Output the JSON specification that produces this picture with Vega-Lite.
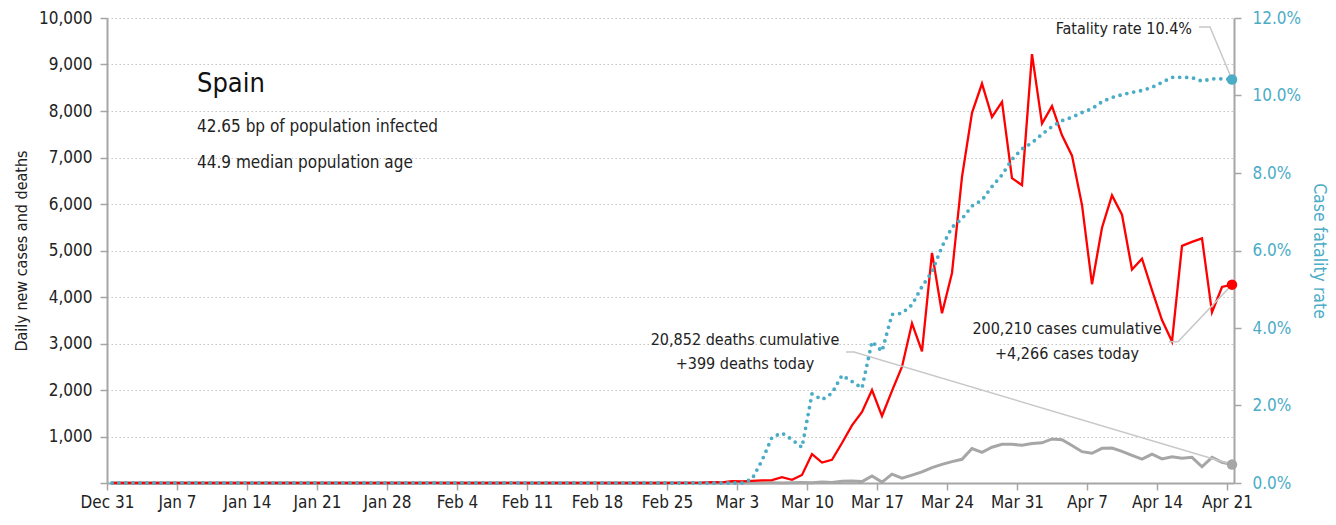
{
  "$schema": "https://vega.github.io/schema/vega-lite/v6.json",
  "width": 1127,
  "height": 465,
  "autosize": {"type": "none"},
  "padding": {"left": 107, "top": 18, "right": 102, "bottom": 42},
  "background": "white",
  "config": {
    "view": {"stroke": null},
    "font": "DejaVu Sans Condensed, Liberation Sans, sans-serif",
    "text": {"font": "DejaVu Sans Condensed, Liberation Sans, sans-serif"},
    "axis": {
      "domainColor": "#a6a6a6", "domainWidth": 2,
      "tickColor": "#a6a6a6", "tickWidth": 1.5, "tickSize": 7,
      "labelFont": "DejaVu Sans Condensed, Liberation Sans, sans-serif", "labelFontSize": 17, "labelColor": "#222222",
      "titleFont": "DejaVu Sans Condensed, Liberation Sans, sans-serif", "titleFontSize": 16, "titleFontWeight": "normal", "titleColor": "#222222",
      "gridColor": "#c4c4c4", "gridDash": [1.5, 2.5], "gridWidth": 1
    }
  },
  "datasets": {
    "main": [
      {"date":"2019/12/31","cases":0,"deaths":0,"cfr":0},
      {"date":"2020/01/01","cases":0,"deaths":0,"cfr":0},
      {"date":"2020/01/02","cases":0,"deaths":0,"cfr":0},
      {"date":"2020/01/03","cases":0,"deaths":0,"cfr":0},
      {"date":"2020/01/04","cases":0,"deaths":0,"cfr":0},
      {"date":"2020/01/05","cases":0,"deaths":0,"cfr":0},
      {"date":"2020/01/06","cases":0,"deaths":0,"cfr":0},
      {"date":"2020/01/07","cases":0,"deaths":0,"cfr":0},
      {"date":"2020/01/08","cases":0,"deaths":0,"cfr":0},
      {"date":"2020/01/09","cases":0,"deaths":0,"cfr":0},
      {"date":"2020/01/10","cases":0,"deaths":0,"cfr":0},
      {"date":"2020/01/11","cases":0,"deaths":0,"cfr":0},
      {"date":"2020/01/12","cases":0,"deaths":0,"cfr":0},
      {"date":"2020/01/13","cases":0,"deaths":0,"cfr":0},
      {"date":"2020/01/14","cases":0,"deaths":0,"cfr":0},
      {"date":"2020/01/15","cases":0,"deaths":0,"cfr":0},
      {"date":"2020/01/16","cases":0,"deaths":0,"cfr":0},
      {"date":"2020/01/17","cases":0,"deaths":0,"cfr":0},
      {"date":"2020/01/18","cases":0,"deaths":0,"cfr":0},
      {"date":"2020/01/19","cases":0,"deaths":0,"cfr":0},
      {"date":"2020/01/20","cases":0,"deaths":0,"cfr":0},
      {"date":"2020/01/21","cases":0,"deaths":0,"cfr":0},
      {"date":"2020/01/22","cases":0,"deaths":0,"cfr":0},
      {"date":"2020/01/23","cases":0,"deaths":0,"cfr":0},
      {"date":"2020/01/24","cases":0,"deaths":0,"cfr":0},
      {"date":"2020/01/25","cases":0,"deaths":0,"cfr":0},
      {"date":"2020/01/26","cases":0,"deaths":0,"cfr":0},
      {"date":"2020/01/27","cases":0,"deaths":0,"cfr":0},
      {"date":"2020/01/28","cases":0,"deaths":0,"cfr":0},
      {"date":"2020/01/29","cases":0,"deaths":0,"cfr":0},
      {"date":"2020/01/30","cases":0,"deaths":0,"cfr":0},
      {"date":"2020/01/31","cases":0,"deaths":0,"cfr":0},
      {"date":"2020/02/01","cases":1,"deaths":0,"cfr":0},
      {"date":"2020/02/02","cases":0,"deaths":0,"cfr":0},
      {"date":"2020/02/03","cases":0,"deaths":0,"cfr":0},
      {"date":"2020/02/04","cases":0,"deaths":0,"cfr":0},
      {"date":"2020/02/05","cases":0,"deaths":0,"cfr":0},
      {"date":"2020/02/06","cases":0,"deaths":0,"cfr":0},
      {"date":"2020/02/07","cases":0,"deaths":0,"cfr":0},
      {"date":"2020/02/08","cases":0,"deaths":0,"cfr":0},
      {"date":"2020/02/09","cases":1,"deaths":0,"cfr":0},
      {"date":"2020/02/10","cases":0,"deaths":0,"cfr":0},
      {"date":"2020/02/11","cases":0,"deaths":0,"cfr":0},
      {"date":"2020/02/12","cases":0,"deaths":0,"cfr":0},
      {"date":"2020/02/13","cases":0,"deaths":0,"cfr":0},
      {"date":"2020/02/14","cases":0,"deaths":0,"cfr":0},
      {"date":"2020/02/15","cases":0,"deaths":0,"cfr":0},
      {"date":"2020/02/16","cases":0,"deaths":0,"cfr":0},
      {"date":"2020/02/17","cases":0,"deaths":0,"cfr":0},
      {"date":"2020/02/18","cases":0,"deaths":0,"cfr":0},
      {"date":"2020/02/19","cases":0,"deaths":0,"cfr":0},
      {"date":"2020/02/20","cases":0,"deaths":0,"cfr":0},
      {"date":"2020/02/21","cases":0,"deaths":0,"cfr":0},
      {"date":"2020/02/22","cases":0,"deaths":0,"cfr":0},
      {"date":"2020/02/23","cases":0,"deaths":0,"cfr":0},
      {"date":"2020/02/24","cases":0,"deaths":0,"cfr":0},
      {"date":"2020/02/25","cases":1,"deaths":0,"cfr":0},
      {"date":"2020/02/26","cases":4,"deaths":0,"cfr":0},
      {"date":"2020/02/27","cases":3,"deaths":0,"cfr":0},
      {"date":"2020/02/28","cases":7,"deaths":0,"cfr":0},
      {"date":"2020/02/29","cases":17,"deaths":0,"cfr":0},
      {"date":"2020/03/01","cases":13,"deaths":0,"cfr":0},
      {"date":"2020/03/02","cases":39,"deaths":0,"cfr":0},
      {"date":"2020/03/03","cases":36,"deaths":0,"cfr":0},
      {"date":"2020/03/04","cases":45,"deaths":1,"cfr":0.001},
      {"date":"2020/03/05","cases":57,"deaths":1,"cfr":0.0058},
      {"date":"2020/03/06","cases":60,"deaths":3,"cfr":0.0118},
      {"date":"2020/03/07","cases":125,"deaths":2,"cfr":0.0129},
      {"date":"2020/03/08","cases":70,"deaths":7,"cfr":0.0112},
      {"date":"2020/03/09","cases":172,"deaths":11,"cfr":0.0092},
      {"date":"2020/03/10","cases":622,"deaths":7,"cfr":0.0230},
      {"date":"2020/03/11","cases":440,"deaths":19,"cfr":0.0215},
      {"date":"2020/03/12","cases":500,"deaths":11,"cfr":0.0232},
      {"date":"2020/03/13","cases":860,"deaths":37,"cfr":0.0278},
      {"date":"2020/03/14","cases":1240,"deaths":43,"cfr":0.0262},
      {"date":"2020/03/15","cases":1530,"deaths":30,"cfr":0.0245},
      {"date":"2020/03/16","cases":2000,"deaths":150,"cfr":0.0365},
      {"date":"2020/03/17","cases":1440,"deaths":20,"cfr":0.0340},
      {"date":"2020/03/18","cases":1980,"deaths":190,"cfr":0.0435},
      {"date":"2020/03/19","cases":2500,"deaths":105,"cfr":0.0438},
      {"date":"2020/03/20","cases":3435,"deaths":170,"cfr":0.0460},
      {"date":"2020/03/21","cases":2830,"deaths":240,"cfr":0.0507},
      {"date":"2020/03/22","cases":4950,"deaths":330,"cfr":0.0545},
      {"date":"2020/03/23","cases":3650,"deaths":400,"cfr":0.0610},
      {"date":"2020/03/24","cases":4517,"deaths":460,"cfr":0.0660},
      {"date":"2020/03/25","cases":6585,"deaths":510,"cfr":0.0682},
      {"date":"2020/03/26","cases":7960,"deaths":740,"cfr":0.0715},
      {"date":"2020/03/27","cases":8590,"deaths":660,"cfr":0.0730},
      {"date":"2020/03/28","cases":7871,"deaths":770,"cfr":0.0765},
      {"date":"2020/03/29","cases":8195,"deaths":832,"cfr":0.0795},
      {"date":"2020/03/30","cases":6555,"deaths":835,"cfr":0.0835},
      {"date":"2020/03/31","cases":6405,"deaths":810,"cfr":0.0862},
      {"date":"2020/04/01","cases":9222,"deaths":850,"cfr":0.0878},
      {"date":"2020/04/02","cases":7730,"deaths":865,"cfr":0.0900},
      {"date":"2020/04/03","cases":8105,"deaths":948,"cfr":0.0920},
      {"date":"2020/04/04","cases":7478,"deaths":932,"cfr":0.0935},
      {"date":"2020/04/05","cases":7040,"deaths":805,"cfr":0.0944},
      {"date":"2020/04/06","cases":5980,"deaths":674,"cfr":0.0956},
      {"date":"2020/04/07","cases":4275,"deaths":640,"cfr":0.0966},
      {"date":"2020/04/08","cases":5490,"deaths":745,"cfr":0.0984},
      {"date":"2020/04/09","cases":6186,"deaths":752,"cfr":0.0995},
      {"date":"2020/04/10","cases":5770,"deaths":680,"cfr":0.1002},
      {"date":"2020/04/11","cases":4590,"deaths":595,"cfr":0.1008},
      {"date":"2020/04/12","cases":4823,"deaths":512,"cfr":0.1013},
      {"date":"2020/04/13","cases":4150,"deaths":622,"cfr":0.1021},
      {"date":"2020/04/14","cases":3505,"deaths":517,"cfr":0.1034},
      {"date":"2020/04/15","cases":3045,"deaths":565,"cfr":0.1047},
      {"date":"2020/04/16","cases":5100,"deaths":530,"cfr":0.1047},
      {"date":"2020/04/17","cases":5185,"deaths":552,"cfr":0.1046},
      {"date":"2020/04/18","cases":5260,"deaths":350,"cfr":0.1037},
      {"date":"2020/04/19","cases":3670,"deaths":552,"cfr":0.1043},
      {"date":"2020/04/20","cases":4216,"deaths":445,"cfr":0.1043},
      {"date":"2020/04/21","cases":4266,"deaths":399,"cfr":0.10415}
    ]
  },
  "encoding": {
    "x": {
      "field": "date", "type": "temporal",
      "scale": {"domain": [{"year": 2019, "month": 12, "date": 31}, {"year": 2020, "month": 4, "date": 21, "hours": 16, "minutes": 48}]},
      "axis": {
        "values": [
          {"year": 2019, "month": 12, "date": 31},
          {"year": 2020, "month": 1, "date": 7},
          {"year": 2020, "month": 1, "date": 14},
          {"year": 2020, "month": 1, "date": 21},
          {"year": 2020, "month": 1, "date": 28},
          {"year": 2020, "month": 2, "date": 4},
          {"year": 2020, "month": 2, "date": 11},
          {"year": 2020, "month": 2, "date": 18},
          {"year": 2020, "month": 2, "date": 25},
          {"year": 2020, "month": 3, "date": 3},
          {"year": 2020, "month": 3, "date": 10},
          {"year": 2020, "month": 3, "date": 17},
          {"year": 2020, "month": 3, "date": 24},
          {"year": 2020, "month": 3, "date": 31},
          {"year": 2020, "month": 4, "date": 7},
          {"year": 2020, "month": 4, "date": 14},
          {"year": 2020, "month": 4, "date": 21}
        ],
        "format": "%b %-d", "title": null, "grid": false,
        "labelPadding": 4, "labelOverlap": false, "labelFlush": false
      }
    }
  },
  "layer": [
    {
      "layer": [
        {
          "data": {"name": "main"},
          "mark": {"type": "line", "color": "#a6a6a6", "strokeWidth": 3, "xOffset": 5},
          "encoding": {
            "y": {
              "field": "deaths", "type": "quantitative",
              "scale": {"domain": [0, 10000], "nice": false},
              "axis": {
                "values": [0, 1000, 2000, 3000, 4000, 5000, 6000, 7000, 8000, 9000, 10000],
                "labelExpr": "datum.value == 0 ? '' : format(datum.value, ',')",
                "title": "Daily new cases and deaths",
                "grid": true, "labelPadding": 8, "titlePadding": 9
              }
            }
          }
        },
        {
          "data": {"name": "main"},
          "mark": {"type": "line", "color": "#ff0000", "strokeWidth": 2.3, "xOffset": 5},
          "encoding": {
            "y": {"field": "cases", "type": "quantitative"}
          }
        },
        {
          "data": {"values": [
            {"g": "fatality", "date": "2020/04/17 16:48", "v": 9806},
            {"g": "fatality", "date": "2020/04/18 19:12", "v": 9806},
            {"g": "fatality", "date": "2020/04/21", "v": 8679},
            {"g": "deaths", "date": "2020/03/13 09:36", "v": 2817},
            {"g": "deaths", "date": "2020/03/14 04:48", "v": 2817},
            {"g": "deaths", "date": "2020/04/21", "v": 399},
            {"g": "cases", "date": "2020/04/14 16:48", "v": 3039},
            {"g": "cases", "date": "2020/04/15 14:24", "v": 3039},
            {"g": "cases", "date": "2020/04/21", "v": 4266}
          ]},
          "mark": {"type": "line", "color": "#c8c8c8", "strokeWidth": 1.5, "xOffset": 5},
          "encoding": {
            "y": {"field": "v", "type": "quantitative"},
            "detail": {"field": "g"}
          }
        },
        {
          "data": {"values": [
            {"date": "2020/04/21", "v": 4266, "s": "cases"}
          ]},
          "mark": {"type": "circle", "size": 110, "opacity": 1, "color": "#ff0000", "xOffset": 5},
          "encoding": {
            "y": {"field": "v", "type": "quantitative"}
          }
        },
        {
          "data": {"values": [
            {"date": "2020/04/21", "v": 399, "s": "deaths"}
          ]},
          "mark": {"type": "circle", "size": 110, "opacity": 1, "color": "#a6a6a6", "xOffset": 5},
          "encoding": {
            "y": {"field": "v", "type": "quantitative"}
          }
        },
        {
          "data": {"values": [
            {"date": "2020/01/09", "v": 8580, "label": "Spain"}
          ]},
          "mark": {"type": "text", "align": "left", "baseline": "middle", "fontSize": 27, "color": "#111111"},
          "encoding": {
            "y": {"field": "v", "type": "quantitative"},
            "text": {"field": "label"}
          }
        },
        {
          "data": {"values": [
            {"date": "2020/01/09", "v": 7662, "label": "42.65 bp of population infected"},
            {"date": "2020/01/09", "v": 6888, "label": "44.9 median population age"}
          ]},
          "mark": {"type": "text", "align": "left", "baseline": "middle", "fontSize": 17, "color": "#222222"},
          "encoding": {
            "y": {"field": "v", "type": "quantitative"},
            "text": {"field": "label"}
          }
        },
        {
          "data": {"values": [
            {"date": "2020/03/03 19:12", "v": 3075, "label": "20,852 deaths cumulative"},
            {"date": "2020/03/03 19:12", "v": 2559, "label": "+399 deaths today"},
            {"date": "2020/04/05", "v": 3312, "label": "200,210 cases cumulative"},
            {"date": "2020/04/05", "v": 2774, "label": "+4,266 cases today"}
          ]},
          "mark": {"type": "text", "align": "center", "baseline": "middle", "fontSize": 16, "color": "#222222"},
          "encoding": {
            "y": {"field": "v", "type": "quantitative"},
            "text": {"field": "label"}
          }
        },
        {
          "data": {"values": [
            {"date": "2020/04/17 12:00", "v": 9760, "label": "Fatality rate 10.4%"}
          ]},
          "mark": {"type": "text", "align": "right", "baseline": "middle", "fontSize": 16, "color": "#222222"},
          "encoding": {
            "y": {"field": "v", "type": "quantitative"},
            "text": {"field": "label"}
          }
        }
      ]
    },
    {
      "layer": [
        {
          "data": {"name": "main"},
          "mark": {"type": "line", "color": "#4bacc6", "strokeWidth": 3.8, "strokeDash": [0, 7], "strokeCap": "round", "xOffset": 5},
          "encoding": {
            "y": {
              "field": "cfr", "type": "quantitative",
              "scale": {"domain": [0, 0.12], "nice": false},
              "axis": {
                "orient": "right",
                "values": [0, 0.02, 0.04, 0.06, 0.08, 0.1, 0.12],
                "format": ".1%",
                "title": "Case fatality rate",
                "titleFontSize": 17.5,
                "labelColor": "#4bacc6", "titleColor": "#4bacc6",
                "grid": false, "labelPadding": 11, "titlePadding": 9
              }
            }
          }
        },
        {
          "data": {"values": [
            {"date": "2020/04/21", "cfr": 0.10415, "s": "cfr"}
          ]},
          "mark": {"type": "circle", "size": 110, "opacity": 1, "color": "#4bacc6", "xOffset": 5},
          "encoding": {
            "y": {"field": "cfr", "type": "quantitative"}
          }
        }
      ]
    }
  ],
  "resolve": {"scale": {"y": "independent"}}
}
